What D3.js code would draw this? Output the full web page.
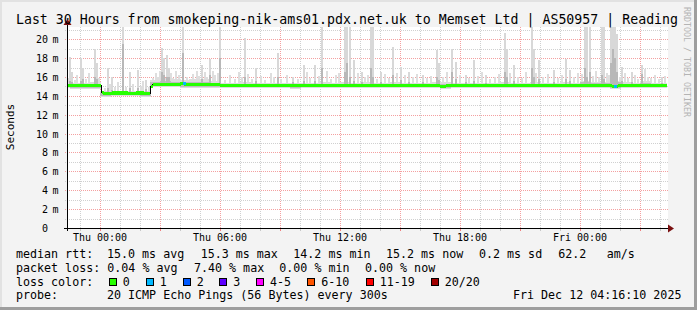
<!DOCTYPE html>
<html><head><meta charset="utf-8">
<script src="https://cdn.jsdelivr.net/npm/d3@7"></script>
<style>
html,body{margin:0;padding:0;background:#f3f3f3;}
text{font-family:"DejaVu Sans Mono",monospace;}
</style></head>
<body><svg id="c" width="697" height="310"></svg>
<script>
// ---------- DATA ----------
const title = "Last 30 Hours from smokeping-nik-ams01.pdx.net.uk to Memset Ltd | AS50957 | Reading";
const timeDomain = [-1.65, 28.35];            // hours relative to Thu 00:00
const timeLabels = [[0,"Thu 00:00"],[6,"Thu 06:00"],[12,"Thu 12:00"],[18,"Thu 18:00"],[24,"Fri 00:00"]];
const yTicks = [0,2,4,6,8,10,12,14,16,18,20];
const yMax = 21.29;
// median rtt segments: [startHour, endHour, ms]
const medianSegs = [
 [-1.65,0.05,15.05],[0.05,0.15,14.4],[0.15,0.6,14.2],[0.6,1.4,14.3],[1.4,1.8,14.25],[1.8,2.2,14.3],
 [2.2,2.5,14.2],[2.5,2.6,15.0],[2.6,4.0,15.2],[4.0,4.2,15.35],[4.2,6.0,15.15],[6.0,9.5,15.1],
 [9.5,10.0,15.05],[10.0,17.0,15.1],[17.0,17.3,15.0],[17.3,25.6,15.1],[25.6,25.9,15.0],[25.9,28.35,15.1]
];
// loss segments (loss-colour index): [startHour, endHour, idx]
const lossSegs = [[4.15,4.3,1],[25.7,25.85,1]];
// thin smoke band per half hour starting at hour -2: outer top and inner top (ms)
const bandStart = -2;
const bandTop = [15.4,15.35,15.4,15.45,14.5,14.5,14.55,14.5,14.55,15.7,15.9,15.8,15.7,15.8,15.8,15.6,15.4,15.4,15.45,15.35,
 15.4,15.4,15.35,15.4,15.4,15.35,15.45,15.4,15.5,15.4,15.45,15.4,15.35,15.45,15.4,15.35,15.4,15.45,15.45,15.4,
 15.35,15.35,15.35,15.4,15.45,15.35,15.4,15.45,15.35,15.4,15.45,15.4,15.6,15.5,15.5,15.6,15.45,15.4,15.55,15.4,15.35];
const bandMid = [15.25,15.25,15.25,15.3,14.35,14.35,14.4,14.35,14.35,15.45,15.6,15.5,15.45,15.5,15.5,15.35,15.25,15.25,15.3,15.25,
 15.25,15.25,15.25,15.25,15.25,15.25,15.3,15.25,15.3,15.25,15.3,15.25,15.25,15.3,15.25,15.25,15.25,15.3,15.3,15.25,
 15.25,15.25,15.25,15.25,15.3,15.25,15.25,15.3,15.25,15.25,15.3,15.25,15.45,15.35,15.4,15.45,15.3,15.25,15.4,15.25,15.25];
// large smoke spikes (5-minute steps): [hour, max ms, inner ms]
const spikes = [
 [-1.55,18.1,15.6],[-1.45,16.5,15.5],[-1.0,18.0,15.6],[-0.9,17.0,15.8],[-0.3,19.0,16.0],[-0.2,17.5,15.8],
 [0.35,16.9,14.8],[0.55,16.0,14.6],[1.1,21.3,19.5],[1.45,16.5,14.8],[1.85,16.7,14.8],[2.25,15.7,14.7],
 [3.05,19.1,16.5],[3.15,18.0,16.2],[3.3,18.3,16.0],[3.4,17.0,16.0],[4.1,21.3,18.5],[5.05,17.3,15.8],
 [5.45,17.9,16.2],[5.95,21.3,18.0],[7.2,20.1,16.0],[7.75,16.9,15.6],[8.85,18.5,16.0],[9.6,16.0,15.5],
 [10.15,17.3,15.6],[10.7,17.3,15.6],[11.05,21.3,17.0],[12.2,21.3,16.5],[12.3,21.3,17.5],[12.45,21.3,16.0],
 [12.65,17.8,15.6],[13.05,16.5,15.5],[13.5,21.3,17.0],[13.6,21.3,16.0],[14.0,16.5,15.5],[14.6,19.2,16.2],
 [15.0,17.1,15.7],[15.4,16.5,15.5],[16.1,16.2,15.5],[16.8,18.9,16.0],[16.9,17.5,15.7],[17.55,19.0,16.5],
 [17.75,17.6,15.8],[18.25,16.2,15.5],[18.65,17.8,15.6],[19.25,16.2,15.4],[20.2,20.7,16.5],[20.3,19.0,16.0],
 [20.65,17.3,15.6],[21.55,21.3,17.0],[21.65,19.0,16.0],[21.9,17.8,15.8],[22.65,16.7,15.5],[23.25,17.9,15.8],
 [23.45,16.7,15.6],[24.2,21.3,17.0],[24.3,21.3,16.0],[24.45,21.3,16.5],[25.05,21.3,16.2],[25.15,21.3,15.8],
 [25.5,21.3,17.5],[25.6,21.3,19.0],[25.7,21.3,18.0],[25.8,20.5,16.5],[26.05,17.1,15.6],[26.55,16.5,15.5],
 [27.05,17.3,16.3],[28.05,16.0,15.4]
];
// small smoke spikes: [hour, max ms]
const smallSpikes = [
 [-1.6,15.9],[-1.3,15.7],[-1.2,16.2],[-0.75,15.8],[-0.6,16.4],[-0.1,15.9],
 [0.2,14.8],[0.45,15.3],[0.7,14.9],[0.85,15.5],[1.25,14.9],[1.6,15.2],[2.0,15.0],[2.1,15.6],[2.4,14.9],
 [2.6,15.9],[2.75,16.4],[2.85,16.0],[2.95,16.6],[3.5,16.4],[3.6,15.9],[3.75,16.6],[3.9,16.2],[4.3,16.0],
 [4.45,15.8],[4.6,16.3],[4.8,16.6],[4.9,16.1],[5.2,16.5],[5.3,16.0],[5.6,16.6],[5.7,16.2],[5.85,16.4],
 [6.2,15.7],[6.45,16.2],[6.7,15.8],[6.9,16.5],[7.05,16.0],[7.35,16.3],[7.55,15.8],[8.0,16.1],[8.2,15.7],
 [8.5,16.4],[8.65,16.0],[9.0,15.8],[9.3,16.2],[9.85,15.8],[10.3,16.5],[10.45,15.9],[10.9,16.1],[11.3,16.6],
 [11.5,15.8],[11.75,16.2],[11.9,16.4],[12.85,16.4],[13.2,16.0],[13.35,16.2],[13.8,15.8],[14.2,16.3],
 [14.4,15.9],[14.8,16.4],[15.2,16.2],[15.6,16.0],[15.8,16.3],[16.3,15.9],[16.5,16.1],[17.1,16.0],[17.3,16.5],
 [17.95,16.2],[18.4,15.9],[18.85,16.1],[19.05,16.5],[19.45,15.8],[19.7,16.0],[19.9,16.3],[20.45,16.4],
 [20.85,16.0],[21.05,15.9],[21.25,16.5],[21.75,16.4],[22.1,16.0],[22.35,16.3],[22.85,15.9],[23.05,16.2],
 [23.65,16.0],[23.85,16.4],[24.05,16.3],[24.6,16.1],[24.75,16.6],[24.9,16.0],[25.3,16.4],[25.4,16.2],
 [25.95,16.0],[26.2,16.4],[26.35,15.9],[26.7,16.2],[26.85,15.8],[27.2,16.8],[27.35,16.0],[27.5,15.9],
 [27.7,16.2],[27.9,15.8],[28.2,16.1]
];
const lossLabels = ["0","1","2","3","4-5","6-10","11-19","20/20"];
const lossColors = ["#26ff00","#00b8ff","#0059ff","#5e00ff","#ff00ff","#ff5500","#ff0000","#a10000"];
const statsRtt = [["median rtt:",16],["15.0 ms avg",107],["15.3 ms max",200.7],["14.2 ms min",293.3],["15.2 ms now",386],["0.2 ms sd",479],["62.2",558.3],["am/s",606.7]];
const statsLoss = [["packet loss:",16],["0.04 % avg",107.3],["7.40 % max",194],["0.00 % min",279.3],["0.00 % now",365]];
const lossBoxX = [108.7,145.7,182.7,219.3,256,307.3,365.7,430.7];
const probeText = [["probe:",16],["20 ICMP Echo Pings (56 Bytes) every 300s",107],["Fri Dec 12 04:16:10 2025",513]];

// ---------- DRAW ----------
const W=697,H=310, L=67, R=667, T=27, B=228;
const svg = d3.select("#c");
svg.append("rect").attr("width",W).attr("height",H).attr("fill","#f3f3f3");
// frame
svg.append("rect").attr("x",0).attr("y",0).attr("width",W).attr("height",2).attr("fill","#e2e2e2");
svg.append("rect").attr("x",0).attr("y",0).attr("width",2).attr("height",H).attr("fill","#e2e2e2");
svg.append("rect").attr("x",W-3).attr("y",0).attr("width",3).attr("height",H).attr("fill","#9e9e9e");
svg.append("rect").attr("x",0).attr("y",H-3).attr("width",W).attr("height",3).attr("fill","#9e9e9e");

const x = d3.scaleLinear().domain(timeDomain).range([L,R]);
const y = d3.scaleLinear().domain([0,yMax]).range([B,T]);
const step = 5/60;

svg.append("rect").attr("x",L).attr("y",T).attr("width",R-L+1).attr("height",B-T).attr("fill","#fff");
svg.append("defs").append("clipPath").attr("id","clip").append("rect")
  .attr("x",L+1).attr("y",T).attr("width",R-L-1).attr("height",B-T);

const g = svg.append("g").attr("shape-rendering","crispEdges");
// grids
const hours = d3.range(-1,29);
g.selectAll(".vg").data(hours).join("line")
  .attr("x1",d=>Math.round(x(d))+0.5).attr("x2",d=>Math.round(x(d))+0.5).attr("y1",T).attr("y2",B+2)
  .attr("stroke",d=>d%3===0?"#f4a0a0":"#d0d0d0").attr("stroke-dasharray","1,1");
const ms = d3.range(1,22).filter(v=>v<=yMax);
g.selectAll(".hg").data(ms).join("line")
  .attr("x1",L-2).attr("x2",R+1).attr("y1",d=>Math.round(y(d))+0.5).attr("y2",d=>Math.round(y(d))+0.5)
  .attr("stroke",d=>d%2===0?"#f4a0a0":"#d0d0d0").attr("stroke-dasharray","1,1");

const plot = svg.append("g").attr("clip-path","url(#clip)").attr("shape-rendering","crispEdges");
function medAt(h){ const s=medianSegs.find(s=>h>=s[0]&&h<s[1]); return s?s[2]:15.1; }
const sw = x(step)-x(0)+0.3;
// small spikes
plot.selectAll(".ss").data(smallSpikes).join("rect")
  .attr("x",d=>x(d[0])).attr("width",sw)
  .attr("y",d=>y(d[1])).attr("height",d=>Math.max(0,y(medAt(d[0]))-y(d[1])))
  .attr("fill","#dedede");
// thin smoke band
plot.selectAll(".bt").data(bandTop).join("rect")
  .attr("x",(d,i)=>x(bandStart+i*0.5)).attr("width",x(0.5)-x(0)+0.5)
  .attr("y",d=>y(d)).attr("height",(d,i)=>Math.max(0,y(medAt(bandStart+i*0.5+0.25)-0.3)-y(d)))
  .attr("fill","#dcdcdc");
plot.selectAll(".bm").data(bandMid).join("rect")
  .attr("x",(d,i)=>x(bandStart+i*0.5)).attr("width",x(0.5)-x(0)+0.5)
  .attr("y",d=>y(d)).attr("height",(d,i)=>Math.max(0,y(medAt(bandStart+i*0.5+0.25)-0.2)-y(d)))
  .attr("fill","#bdbdbd");
// large spikes
plot.selectAll(".sp").data(spikes).join("rect")
  .attr("x",d=>x(d[0])).attr("width",sw)
  .attr("y",d=>y(d[1])).attr("height",d=>y(medAt(d[0]))-y(d[1]))
  .attr("fill","#d8d8d8");
plot.selectAll(".spm").data(spikes).join("rect")
  .attr("x",d=>x(d[0])).attr("width",sw)
  .attr("y",d=>y(d[2])).attr("height",d=>Math.max(0,y(medAt(d[0]))-y(d[2])))
  .attr("fill","#b8b8b8");
// median black line
const medPts=[];
medianSegs.forEach(s=>{medPts.push([s[0],s[2]]);medPts.push([s[1],s[2]]);});
plot.append("path").attr("d",d3.line().x(d=>x(d[0])).y(d=>y(d[1]))(medPts))
  .attr("fill","none").attr("stroke","#000").attr("stroke-width",1);
// colored median band
const bandH = 0.16;
plot.selectAll(".mb").data(medianSegs).join("rect")
  .attr("x",d=>x(d[0])+(d[0]===0.05||d[0]===2.5||d[0]===2.6?1:0))
  .attr("width",d=>Math.max(0,x(d[1])-x(d[0])))
  .attr("y",d=>y(d[2]+bandH)).attr("height",d=>y(d[2]-bandH)-y(d[2]+bandH))
  .attr("fill",lossColors[0]);
plot.selectAll(".lb").data(lossSegs).join("rect")
  .attr("x",d=>x(d[0])).attr("width",d=>x(d[1])-x(d[0]))
  .attr("y",d=>y(medAt(d[0])+bandH)).attr("height",d=>y(0)-y(2*bandH))
  .attr("fill",d=>lossColors[d[2]]);

// axes
const ax = svg.append("g").attr("shape-rendering","crispEdges");
ax.append("line").attr("x1",L-3).attr("x2",R+2).attr("y1",B+0.5).attr("y2",B+0.5).attr("stroke","#000");
ax.append("line").attr("x1",L+0.5).attr("x2",L+0.5).attr("y1",B+3).attr("y2",T-3).attr("stroke","#000");
svg.append("path").attr("d",`M${R+1},${B-3.5}L${R+7},${B+0.5}L${R+1},${B+4.5}Z`).attr("fill","#7a1010");
svg.append("path").attr("d",`M${L-3.5},${T-2}L${L+0.5},${T-8}L${L+4.5},${T-2}Z`).attr("fill","#7a1010");
ax.selectAll(".xt").data(hours).join("line")
  .attr("x1",d=>Math.round(x(d))+0.5).attr("x2",d=>Math.round(x(d))+0.5).attr("y1",B+1).attr("y2",B+3)
  .attr("stroke",d=>d%3===0?"#f08080":"#c8c8c8");

// labels
svg.append("text").attr("x",347).attr("y",24).attr("text-anchor","middle").attr("font-size",13.25).attr("fill","#000").text(title);
svg.selectAll(".yl").data(yTicks).join("text")
  .attr("x",48).attr("y",d=>y(d)+4).attr("text-anchor","end").attr("font-size",10).attr("fill","#000").text(d=>d);
svg.selectAll(".ym").data(yTicks.filter(d=>d>0)).join("text")
  .attr("x",52.5).attr("y",d=>y(d)+4).attr("font-size",10).attr("fill","#000").text("m");
svg.selectAll(".xl").data(timeLabels).join("text")
  .attr("x",d=>x(d[0])).attr("y",240.5).attr("text-anchor","middle").attr("font-size",10).attr("fill","#000").text(d=>d[1]);
svg.append("text").attr("transform","translate(14,127) rotate(-90)").attr("text-anchor","middle")
  .attr("font-size",11).attr("fill","#000").text("Seconds");
svg.append("text").attr("transform","translate(684,62) rotate(90)").attr("text-anchor","middle")
  .attr("font-size",8.3).attr("fill","#b4b4b4").text("RRDTOOL / TOBI OETIKER");

const lf = 11.67;
svg.selectAll(".r1").data(statsRtt).join("text").attr("x",d=>d[1]).attr("y",258).attr("font-size",lf).attr("fill","#000").text(d=>d[0]);
svg.selectAll(".r2").data(statsLoss).join("text").attr("x",d=>d[1]).attr("y",272).attr("font-size",lf).attr("fill","#000").text(d=>d[0]);
svg.append("text").attr("x",16).attr("y",285.6).attr("font-size",lf).attr("fill","#000").text("loss color:");
svg.selectAll(".lbx").data(lossLabels).join("rect")
  .attr("x",(d,i)=>lossBoxX[i]+0.5).attr("y",278.5).attr("width",7).attr("height",7)
  .attr("fill",(d,i)=>lossColors[i]).attr("stroke","#000").attr("stroke-width",1).attr("shape-rendering","crispEdges");
svg.selectAll(".lbt").data(lossLabels).join("text")
  .attr("x",(d,i)=>lossBoxX[i]+14).attr("y",285.6).attr("font-size",lf).attr("fill","#000").text(d=>d);
svg.selectAll(".r4").data(probeText).join("text").attr("x",d=>d[1]).attr("y",299.2).attr("font-size",lf).attr("fill","#000").text(d=>d[0]);
</script></body></html>
